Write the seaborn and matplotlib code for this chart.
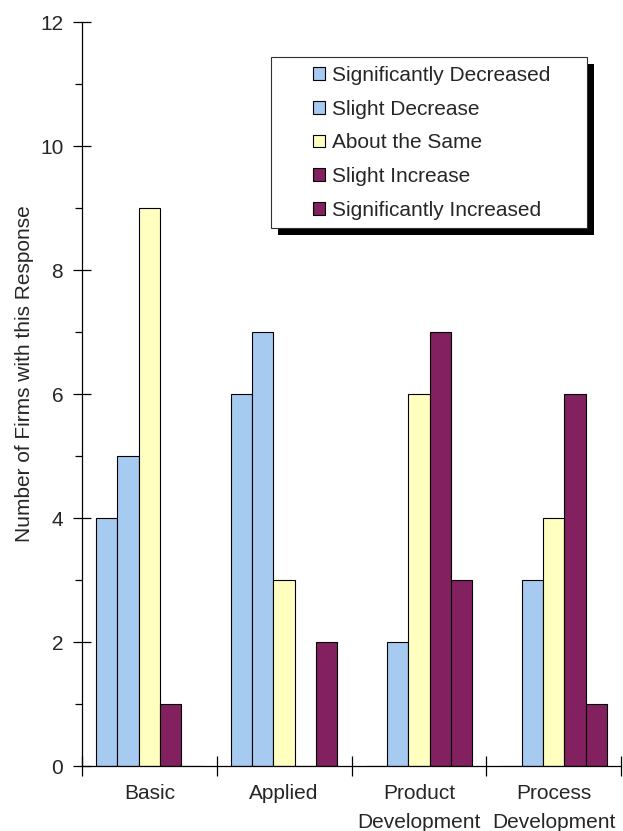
import matplotlib
matplotlib.use("Agg")
import matplotlib.pyplot as plt
from matplotlib.patches import Patch, Rectangle
import pandas as pd
import seaborn as sns

# Survey responses: number of firms per R&D category and response
categories = ["Basic", "Applied", "Product\nDevelopment", "Process\nDevelopment"]
responses = ["Significantly Decreased", "Slight Decrease", "About the Same",
             "Slight Increase", "Significantly Increased"]
sig_decreased = [4, 6, 0, 0]
slight_decrease = [5, 7, 2, 3]
about_same = [9, 3, 6, 4]
slight_increase = [1, 0, 7, 6]
sig_increased = [0, 2, 3, 1]
colors = ["#A6CAF0", "#A6CAF0", "#FFFFC0", "#822060", "#822060"]

series = [sig_decreased, slight_decrease, about_same, slight_increase, sig_increased]
rows = []
for resp, vals in zip(responses, series):
    for cat, v in zip(categories, vals):
        rows.append({"Category": cat, "Response": resp, "Firms": v})
df = pd.DataFrame(rows)

sns.set_theme(style="white")
plt.rcParams["font.family"] = ["Liberation Sans", "DejaVu Sans"]

W, H = 623, 831
FS = 15
fig = plt.figure(figsize=(W / 100, H / 100), dpi=100)
ax = fig.add_axes([82 / W, 1 - 766 / H, (621 - 82) / W, (766 - 22) / H])

sns.barplot(data=df, x="Category", y="Firms", hue="Response", order=categories,
            hue_order=responses, palette=dict(zip(responses, colors)),
            width=0.79, gap=0, edgecolor="black", linewidth=0.8,
            saturation=1, legend=False, ax=ax)

ax.set_xlim(-0.5, 3.5)
ax.set_ylim(0, 12)

for s in ["top", "right"]:
    ax.spines[s].set_visible(False)
for s in ["left", "bottom"]:
    ax.spines[s].set_color("black")
    ax.spines[s].set_linewidth(0.9)

# y axis: labelled major ticks crossing the spine, minor ticks outside
ax.set_yticks(range(0, 13, 2))
ax.set_yticks(range(1, 12, 2), minor=True)
ax.tick_params(axis="y", which="major", direction="inout", length=13, width=0.9,
               color="black", labelsize=FS, pad=7, left=True)
ax.tick_params(axis="y", which="minor", direction="out", length=5, width=0.9,
               color="black", left=True)

# x axis: ticks between the groups, names centred under each group
ax.set_xticks([-0.5, 0.5, 1.5, 2.5, 3.5])
ax.set_xticklabels([])
ax.set_xticks(range(len(categories)), minor=True)
ax.set_xticklabels(categories, minor=True, fontsize=FS, linespacing=1.65)
ax.tick_params(axis="x", which="major", direction="inout", length=14, width=0.9,
               color="black", bottom=True)
ax.tick_params(axis="x", which="minor", length=0, pad=13, bottom=True)

ax.set_xlabel("")
ax.set_ylabel("Number of Firms with this Response", fontsize=FS)
ax.yaxis.set_label_coords(-0.089, 0.527)
ax.grid(False)

# legend box with a solid drop shadow
bx0, by0, bx1, by1 = 271, 57, 587, 228
sh = 7
fig.patches.append(Rectangle(((bx0 + sh) / W, 1 - (by1 + sh) / H),
                             (bx1 - bx0) / W, (by1 - by0) / H, transform=fig.transFigure,
                             facecolor="black", edgecolor="none", zorder=5))
fig.patches.append(Rectangle((bx0 / W, 1 - by1 / H), (bx1 - bx0) / W, (by1 - by0) / H,
                             transform=fig.transFigure, facecolor="white",
                             edgecolor="#303030", linewidth=0.8, zorder=6))

handles = [Patch(facecolor=c, edgecolor="black", linewidth=0.8) for c in colors]
leg = fig.legend(handles, responses, loc="upper left",
                 bbox_to_anchor=(307 / W, 1 - 59.5 / H), frameon=False,
                 fontsize=FS, handlelength=0.58, handleheight=0.58,
                 handletextpad=0.34, labelspacing=0.71, borderpad=0.3,
                 borderaxespad=0)
leg.set_zorder(7)

fig.savefig("out.png", dpi=100)
